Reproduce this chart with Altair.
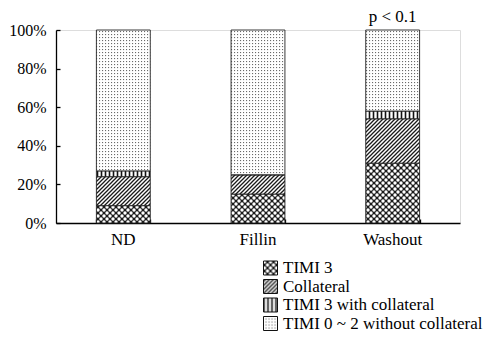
import altair as alt
import pandas as pd
import altair.utils.html as _ah

# ---------------- data ----------------
groups = ["ND", "Fillin", "Washout"]
series = ["TIMI 3", "Collateral", "TIMI 3 with collateral", "TIMI 0 ~ 2 without collateral"]
timi3 = [9, 15, 31]
collateral = [15, 10, 23]
timi3_coll = [3, 0, 4]
timi02 = [73, 75, 42]
y_ticks = [0, 20, 40, 60, 80, 100]
annot_group = ["Washout"]
annot_y = [100]
annot_text = ["p < 0.1"]

# pattern fills (defined as SVG patterns in the page)
fills = ["url(#pTimi3)", "url(#pColl)", "url(#pVert)", "url(#pDots)"]

DEFS = """
<svg width="0" height="0" style="position:absolute;width:0;height:0;overflow:hidden" aria-hidden="true">
 <defs>
  <pattern id="pTimi3" patternUnits="userSpaceOnUse" width="6" height="6">
   <rect width="6" height="6" fill="#1a1a1a"/>
   <circle cx="3" cy="3" r="1.7" fill="white"/>
   <circle cx="0" cy="0" r="1.7" fill="white"/>
   <circle cx="6" cy="0" r="1.7" fill="white"/>
   <circle cx="0" cy="6" r="1.7" fill="white"/>
   <circle cx="6" cy="6" r="1.7" fill="white"/>
  </pattern>
  <pattern id="pColl" patternUnits="userSpaceOnUse" width="4" height="4">
   <rect width="4" height="4" fill="white"/>
   <path d="M0,4 L4,0 M-1,1 L1,-1 M3,5 L5,3" stroke="#1a1a1a" stroke-width="1.3"/>
  </pattern>
  <pattern id="pVert" patternUnits="userSpaceOnUse" width="4" height="4">
   <rect width="4" height="4" fill="white"/>
   <path d="M1.5,0 L1.5,4" stroke="#111" stroke-width="1.6"/>
  </pattern>
  <pattern id="pDots" patternUnits="userSpaceOnUse" width="3" height="3">
   <rect width="3" height="3" fill="white"/>
   <rect x="1" y="1" width="1.1" height="1.1" fill="#6a6a6a"/>
  </pattern>
 </defs>
</svg>
"""

_orig_tpl = _ah.TEMPLATES["standard"]


class _PatternTemplate:
    def render(self, **kw):
        return _orig_tpl.render(**kw).replace("<body>", "<body>\n" + DEFS, 1)


_ah.TEMPLATES["standard"] = _PatternTemplate()

rows = []
for i, g in enumerate(groups):
    for k, (s, vals) in enumerate(zip(series, [timi3, collateral, timi3_coll, timi02])):
        rows.append({"group": g, "series": s, "value": vals[i], "order": k})
df = pd.DataFrame(rows)
annot = pd.DataFrame({"group": annot_group, "y": annot_y, "text": annot_text})

FONT = "Liberation Serif, DejaVu Serif, serif"

x_scale = alt.Scale(domain=groups, paddingInner=0.6, paddingOuter=0.3)
y_scale = alt.Scale(domain=[0, 100], nice=False)

bars = alt.Chart(df).mark_bar(stroke="#222", strokeWidth=0.9).encode(
    x=alt.X("group:N", sort=groups, scale=x_scale,
            axis=alt.Axis(title=None, labelAngle=0, tickSize=0, domainColor="black",
                          domainWidth=1.3, labelFont=FONT, labelFontSize=17,
                          labelColor="black", labelPadding=8)),
    y=alt.Y("value:Q", stack="zero", scale=y_scale,
            axis=alt.Axis(values=y_ticks, labelExpr="datum.value + '%'", title=None,
                          grid=False, tickSize=0, domainColor="black", domainWidth=1.3,
                          labelFont=FONT, labelFontSize=16, labelColor="black",
                          labelPadding=10)),
    color=alt.Color("series:N", sort=series,
                    scale=alt.Scale(domain=series, range=fills),
                    legend=alt.Legend(title=None, orient="none", legendX=206, legendY=230,
                                      symbolType="square", symbolSize=196,
                                      symbolStrokeColor="#111", symbolStrokeWidth=1,
                                      symbolOpacity=1, clipHeight=16,
                                      labelFont=FONT, labelFontSize=17, labelColor="black",
                                      labelOffset=4, rowPadding=1.5, padding=0,
                                      labelLimit=400)),
    order=alt.Order("order:Q"),
)

# invisible layer carrying the inward-pointing tick marks
ticks = alt.Chart(df).mark_bar(opacity=0).encode(
    x=alt.X("group:N", sort=groups, scale=x_scale,
            axis=alt.Axis(orient="bottom", offset=-4, tickSize=4, tickWidth=1.3,
                          tickColor="black", labels=False, domain=False, title=None,
                          tickBand="extent")),
    y=alt.Y("value:Q", stack="zero", scale=y_scale,
            axis=alt.Axis(orient="left", offset=-4, tickSize=4, tickWidth=1.3,
                          tickColor="black", values=y_ticks, labels=False,
                          domain=False, title=None, grid=False)),
)

text = alt.Chart(annot).mark_text(dy=-13, font=FONT, fontSize=17, color="black").encode(
    x=alt.X("group:N", sort=groups, scale=x_scale, axis=None),
    y=alt.Y("y:Q", scale=y_scale, axis=None),
    text="text:N",
)

chart = alt.layer(bars, ticks, text).resolve_axis(
    x="independent", y="independent"
).properties(
    width=404, height=193,
    autosize=alt.AutoSizeParams(type="none"),
    padding={"left": 48, "top": 22, "right": 31, "bottom": 127},
).configure_view(stroke=None).configure(background="white")

chart.save("out.html", embed_options={"renderer": "svg", "actions": False})
